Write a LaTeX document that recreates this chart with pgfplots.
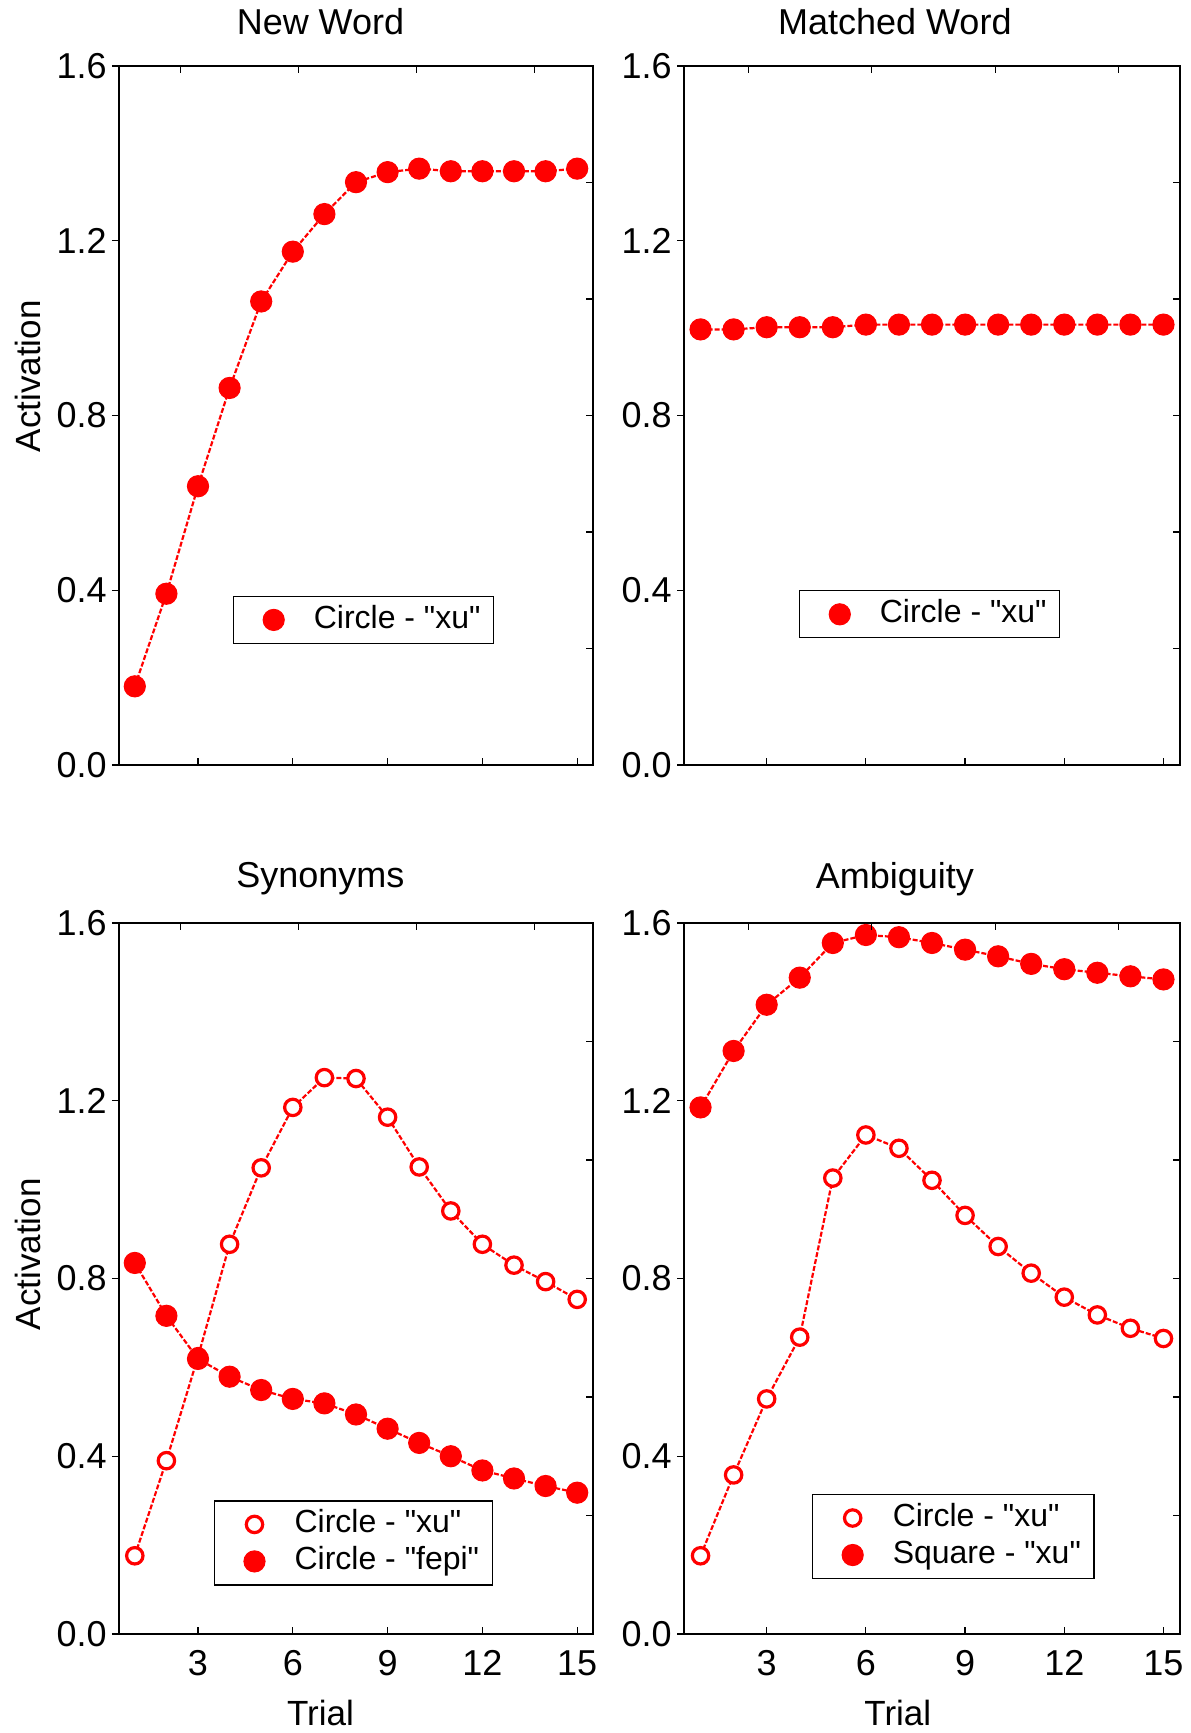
\documentclass[border=0pt]{standalone}
\usepackage{fontspec}
\setmainfont{Liberation Sans}
\usepackage{pgfplots}
\pgfplotsset{compat=1.18}
\definecolor{pred}{RGB}{255,0,0}
\newcommand{\q}{\textquotedbl}

\pgfplotsset{
  panel/.style={
    scale only axis, xmin=0.5, xmax=15.5, ymin=0, ymax=1.6,
    axis line style={line width=0.6pt},
    xtick={3,6,9,12,15}, ytick={0,0.4,0.8,1.2,1.6},
    xtick pos=left, ytick pos=left,
    tick align=outside, major tick length=3.5pt,
    tick style={black, line width=0.6pt},
    major x tick style={yshift=3.5pt},
    /pgf/number format/assume math mode=true,
    yticklabel style={/pgf/number format/.cd, fixed, fixed zerofill, precision=1, /tikz/.cd,
      anchor=east, inner sep=0pt, xshift=-2.5pt, font=\fontsize{18}{18}\selectfont},
    xticklabel style={anchor=center, inner sep=0pt, yshift=-11pt, font=\fontsize{18}{18}\selectfont},
    title style={at={(0.425,1)}, anchor=center, yshift=16pt, font=\fontsize{18}{18}\selectfont},
    label style={font=\fontsize{17.5}{18}\selectfont},
    legend cell align=left,
    legend style={anchor=north west, draw=black, line width=0.6pt, inner xsep=6.5pt, inner ysep=4pt,
      row sep=3pt, column sep=0pt, font=\fontsize{16}{19}\selectfont,
      nodes={inner sep=0pt, text height=12pt, text depth=3.5pt}},
    legend image code/.code={\path (-13pt,0) (19.5pt,0); \draw[##1] plot[only marks] coordinates {(0pt,0pt)};},
  },
  frame/.style={
    scale only axis, xmin=0.5, xmax=15.5, ymin=0, ymax=1.6,
    axis line style={draw=none},
    xtick={2.45,6.18,9.91,13.64}, ytick={0.26667,0.53333,0.8,1.06667,1.33333},
    xtick pos=right, ytick pos=right, tick align=inside, major tick length=3.5pt,
    tick style={black, line width=0.6pt},
    xticklabels={}, yticklabels={},
  },
  filled/.style={pred, line width=1.1pt, dash pattern=on 2.5pt off 1pt,
    mark=*, mark size=5.3pt, mark options={solid, fill=pred, draw=pred, line width=0.5pt}},
  open/.style={pred, line width=1.1pt, dash pattern=on 2.5pt off 1pt,
    mark=*, mark size=4.1pt, mark options={solid, fill=white, draw=pred, line width=1.6pt}},
}

\begin{document}
\begin{tikzpicture}
\path[use as bounding box] (0,0) rectangle (595pt,866.5pt);

% New Word
\begin{axis}[panel, at={(59.5pt,484pt)}, width=237pt, height=349.5pt,
  title={New Word}, xticklabels={},
  ylabel={Activation}, ylabel style={at={(axis description cs:-0.192,0.556)}, anchor=center},
  legend style={at={(0.2405,0.242)}}]
\addplot[filled] coordinates {
  (1,0.180) (2,0.392) (3,0.638) (4,0.863) (5,1.061) (6,1.175) (7,1.261) (8,1.334)
  (9,1.357) (10,1.365) (11,1.359) (12,1.359) (13,1.359) (14,1.359) (15,1.365)};
\addlegendentry{Circle - \q xu\q}
\end{axis}
\begin{axis}[frame, at={(59.5pt,484pt)}, width=237pt, height=349.5pt]
\end{axis}

% Matched Word
\begin{axis}[panel, at={(342pt,484pt)}, width=248pt, height=349.5pt,
  title={Matched Word}, xticklabels={},
  legend style={at={(0.232,0.250)}}]
\addplot[filled] coordinates {
  (1,0.997) (2,0.997) (3,1.002) (4,1.002) (5,1.002) (6,1.008) (7,1.008) (8,1.008)
  (9,1.008) (10,1.008) (11,1.008) (12,1.008) (13,1.008) (14,1.008) (15,1.008)};
\addlegendentry{Circle - \q xu\q}
\end{axis}
\begin{axis}[frame, at={(342pt,484pt)}, width=248pt, height=349.5pt]
\end{axis}

% Synonyms
\begin{axis}[panel, at={(59.5pt,49.5pt)}, width=237pt, height=355.5pt,
  title={Synonyms},
  ylabel={Activation}, ylabel style={at={(axis description cs:-0.192,0.534)}, anchor=center},
  xlabel={Trial}, xlabel style={at={(axis description cs:0.425,-0.111)}, anchor=center},
  legend style={at={(0.200,0.188)}}]
\addplot[open] coordinates {
  (1,0.176) (2,0.390) (3,0.624) (4,0.877) (5,1.049) (6,1.185) (7,1.252) (8,1.250)
  (9,1.163) (10,1.051) (11,0.952) (12,0.877) (13,0.830) (14,0.793) (15,0.753)};
\addlegendentry{Circle - \q xu\q}
\addplot[filled] coordinates {
  (1,0.835) (2,0.716) (3,0.619) (4,0.579) (5,0.549) (6,0.529) (7,0.519) (8,0.494)
  (9,0.462) (10,0.430) (11,0.400) (12,0.368) (13,0.350) (14,0.333) (15,0.318)};
\addlegendentry{Circle - \q fepi\q}
\end{axis}
\begin{axis}[frame, at={(59.5pt,49.5pt)}, width=237pt, height=355.5pt]
\end{axis}

% Ambiguity
\begin{axis}[panel, at={(342pt,49.5pt)}, width=248pt, height=355.5pt,
  title={Ambiguity},
  xlabel={Trial}, xlabel style={at={(axis description cs:0.431,-0.111)}, anchor=center},
  legend style={at={(0.258,0.197)}}]
\addplot[open] coordinates {
  (1,0.176) (2,0.358) (3,0.529) (4,0.668) (5,1.026) (6,1.123) (7,1.093) (8,1.021)
  (9,0.942) (10,0.872) (11,0.812) (12,0.758) (13,0.718) (14,0.688) (15,0.665)};
\addlegendentry{Circle - \q xu\q}
\addplot[filled] coordinates {
  (1,1.185) (2,1.312) (3,1.416) (4,1.477) (5,1.555) (6,1.573) (7,1.568) (8,1.555)
  (9,1.540) (10,1.525) (11,1.508) (12,1.496) (13,1.488) (14,1.480) (15,1.473)};
\addlegendentry{Square - \q xu\q}
\end{axis}
\begin{axis}[frame, at={(342pt,49.5pt)}, width=248pt, height=355.5pt]
\end{axis}
\end{tikzpicture}
\end{document}
